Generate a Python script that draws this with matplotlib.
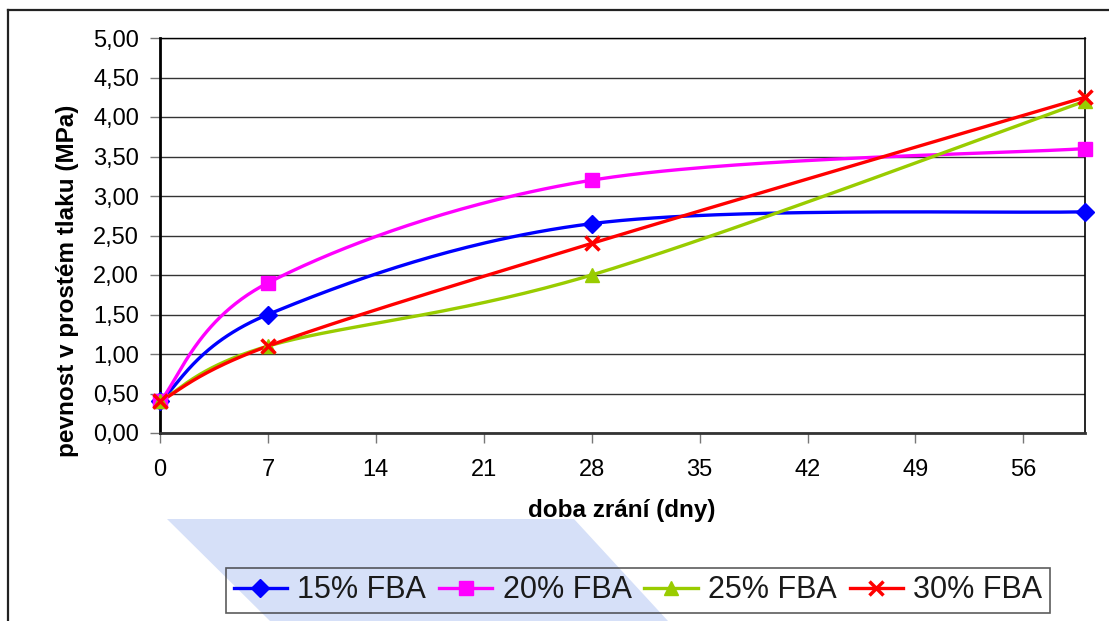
import numpy as np
import matplotlib
matplotlib.use("Agg")
import matplotlib.pyplot as plt
from matplotlib.lines import Line2D
from matplotlib.patches import Polygon
from matplotlib.ticker import FuncFormatter, MultipleLocator

plt.rcParams['font.family'] = ['Liberation Sans', 'DejaVu Sans']

days = [0, 7, 28, 60]
fba15 = [0.40, 1.50, 2.65, 2.80]
fba20 = [0.40, 1.90, 3.20, 3.60]
fba25 = [0.40, 1.10, 2.00, 4.20]
fba30 = [0.40, 1.10, 2.40, 4.25]
labels = ['15% FBA', '20% FBA', '25% FBA', '30% FBA']
colors = ['#0000ff', '#ff00ff', '#99cc00', '#ff0000']
markers = ['D', 's', '^', 'x']
msizes = [9, 9.5, 10, 10]


def smooth(x, y, n=60):
    # Excel-like smoothed line (Catmull-Rom as cubic Bezier)
    p = np.column_stack([x, y]).astype(float)
    p = np.vstack([p[0], p, p[-1]])
    out = []
    t = np.linspace(0, 1, n)[:, None]
    for i in range(len(x) - 1):
        p0, p1, p2, p3 = p[i], p[i + 1], p[i + 2], p[i + 3]
        c1 = p1 + (p2 - p0) / 6
        c2 = p2 - (p3 - p1) / 6
        seg = ((1 - t) ** 3) * p1 + 3 * ((1 - t) ** 2) * t * c1 + 3 * (1 - t) * t ** 2 * c2 + t ** 3 * p2
        out.append(seg)
    out = np.vstack(out)
    return out[:, 0], out[:, 1]


W, H = 1109, 621
fig = plt.figure(figsize=(W / 100, H / 100), dpi=100)

# light blue shape behind the lower part
wm = [(167, 519), (574, 519), (668, 621), (270, 621)]
fig.add_artist(Polygon([(x / W, 1 - y / H) for x, y in wm], closed=True,
                       facecolor='#d6e0f8', edgecolor='none', zorder=0))

# chart area border
fig.add_artist(Line2D([8 / W, 8 / W], [0, 1 - 10 / H], color='#222222', lw=1.6))
fig.add_artist(Line2D([8 / W, 1], [1 - 10 / H, 1 - 10 / H], color='#222222', lw=1.6))

ax = fig.add_axes([160 / W, 1 - 433 / H, (1085 - 160) / W, (433 - 38) / H])
ax.set_facecolor('none')

for vals, c, m, ms, lab in zip([fba15, fba20, fba25, fba30], colors, markers, msizes, labels):
    sx, sy = smooth(days, vals)
    ax.plot(sx, sy, color=c, lw=2.4, zorder=3)
    ax.plot(days, vals, ls='none', marker=m, ms=ms, color=c, mew=2.5 if m == 'x' else 1,
            clip_on=False, zorder=4)

ax.set_xlim(0, 60)
ax.set_ylim(0, 5)
ax.xaxis.set_major_locator(MultipleLocator(7))
ax.yaxis.set_major_locator(MultipleLocator(0.5))
ax.yaxis.set_major_formatter(FuncFormatter(lambda v, p: f"{v:.2f}".replace('.', ',')))
ax.grid(axis='y', color='#333333', lw=1.0)
ax.set_axisbelow(True)

ax.tick_params(axis='both', direction='out', length=7, width=1, color='#777777',
               labelsize=17, colors='#777777', labelcolor='black')
ax.tick_params(axis='y', pad=8)
ax.tick_params(axis='x', pad=12)

ax.spines['left'].set_linewidth(2)
ax.spines['left'].set_color('black')
ax.spines['bottom'].set_linewidth(2)
ax.spines['bottom'].set_color('#333333')
ax.spines['right'].set_linewidth(1.2)
ax.spines['right'].set_color('black')
ax.spines['top'].set_linewidth(1.0)
ax.spines['top'].set_color('black')

ax.set_xlabel('doba zrání (dny)', fontsize=17.5, fontweight='bold')
ax.set_ylabel('pevnost v prostém tlaku (MPa)', fontsize=17.5, fontweight='bold')
ax.xaxis.label.set_va('center')
ax.yaxis.label.set_va('center')
ax.xaxis.set_label_coords((622 - 160) / 925, -(511 - 433) / 395)
ax.yaxis.set_label_coords((68 - 160) / 925, (433 - 281) / 395)

handles = [Line2D([], [], color=c, lw=2.4, marker=m, ms=ms, mew=2.5 if m == 'x' else 1)
           for c, m, ms in zip(colors, markers, msizes)]
leg = fig.legend(handles, labels, loc='center', ncol=4,
                 bbox_to_anchor=(638 / W, 1 - 590.5 / H),
                 fontsize=22, handlelength=1.75, handletextpad=0.33, columnspacing=0.42,
                 borderpad=0.25, borderaxespad=0, fancybox=False, frameon=True)
leg.get_frame().set_facecolor('none')
leg.get_frame().set_edgecolor('#333333')
leg.get_frame().set_linewidth(1.2)
for t in leg.get_texts():
    t.set_color('#1a1a1a')

fig.savefig('out.png', dpi=100)
